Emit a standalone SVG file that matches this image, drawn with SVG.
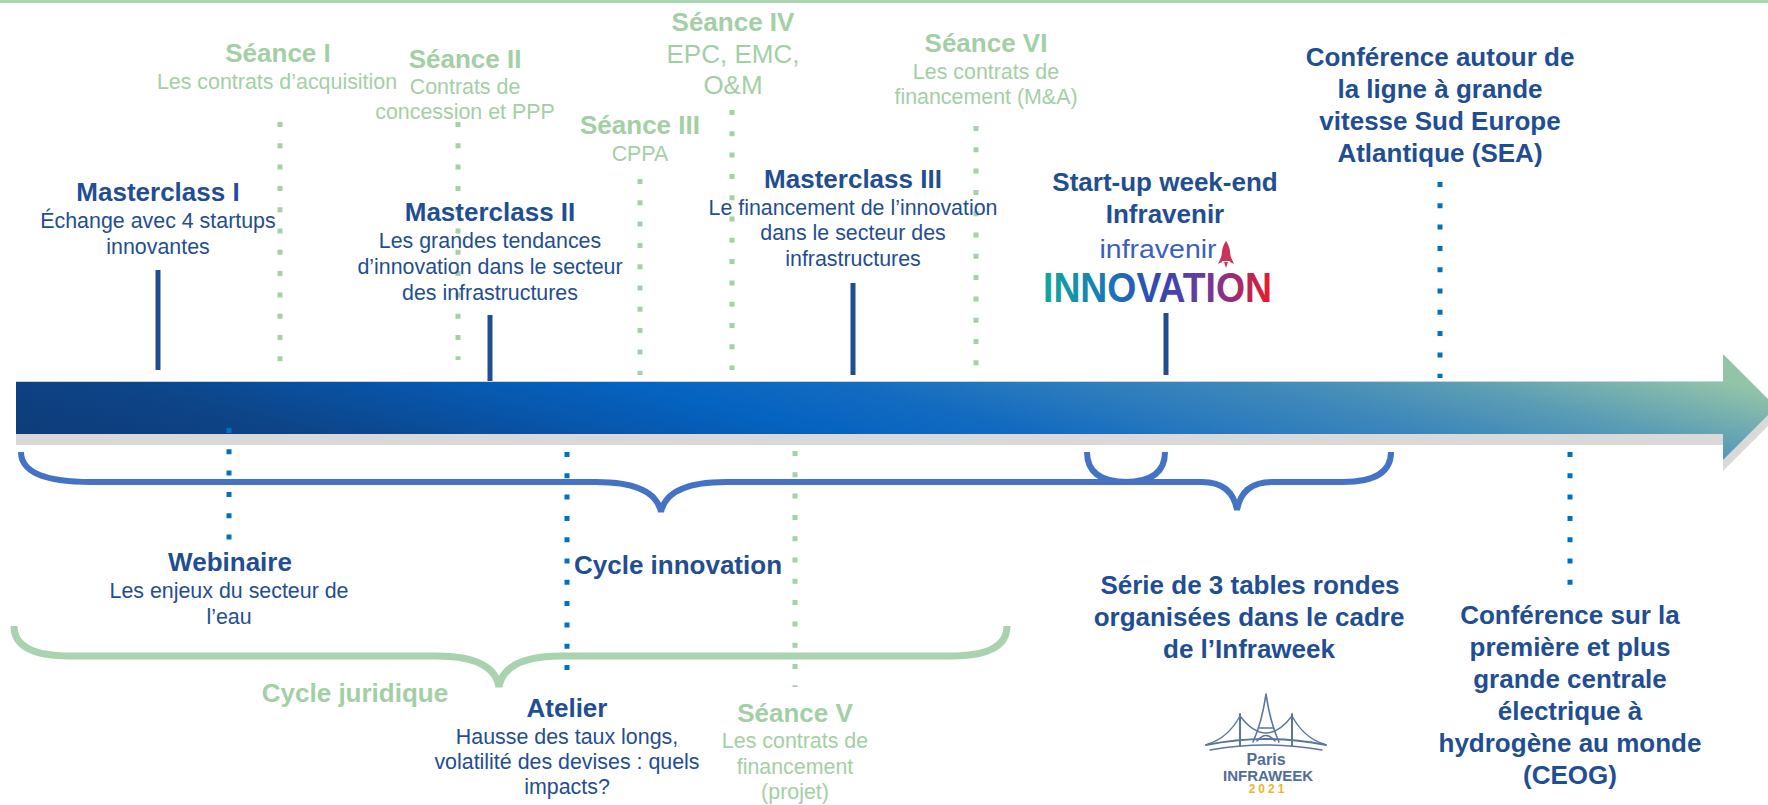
<svg xmlns="http://www.w3.org/2000/svg" width="1768" height="805" viewBox="0 0 1768 805">
<defs>
<style>
text{font-family:"Liberation Sans",Arial,sans-serif;text-anchor:middle}
.bt{font-size:26px;font-weight:bold;fill:#1f4e93}
.bs{font-size:21.4px;fill:#1f4e93}
.gt{font-size:26px;font-weight:bold;fill:#a3cfa5}
.gs{font-size:21.4px;fill:#a3cfa5}
.gl{font-size:26px;fill:#a3cfa5}
.gdot{stroke:#a6d0a5;stroke-width:5;stroke-dasharray:5 16.3;fill:none}
.bdot{stroke:#0070c0;stroke-width:5;stroke-dasharray:5 16.3;fill:none}
.tick{stroke:#1f4d91;stroke-width:5;fill:none}
.bbrace{stroke:#4472c4;stroke-width:6;fill:none}
.gbrace{stroke:#a8d3ae;stroke-width:7;fill:none}
.logo{stroke:#5a759e;fill:none;stroke-linecap:round}
</style>
<linearGradient id="arrowGrad" x1="0" y1="0.625" x2="1" y2="0.375">
<stop offset="0" stop-color="#0e3d7c"/>
<stop offset="0.14" stop-color="#0d4589"/>
<stop offset="0.28" stop-color="#0855aa"/>
<stop offset="0.41" stop-color="#0563c1"/>
<stop offset="0.52" stop-color="#136bc0"/>
<stop offset="0.63" stop-color="#2a7abd"/>
<stop offset="0.74" stop-color="#3f88ba"/>
<stop offset="0.85" stop-color="#5b9db4"/>
<stop offset="0.93" stop-color="#78b1ae"/>
<stop offset="1" stop-color="#93c4a9"/>
</linearGradient>
<linearGradient id="innoGrad" gradientUnits="userSpaceOnUse" x1="1043" y1="0" x2="1272" y2="0">
<stop offset="0" stop-color="#14a89c"/>
<stop offset="0.3" stop-color="#1a74b8"/>
<stop offset="0.5" stop-color="#3148b0"/>
<stop offset="0.7" stop-color="#6b3a9e"/>
<stop offset="0.85" stop-color="#a42a6e"/>
<stop offset="1" stop-color="#ea1c24"/>
</linearGradient>
</defs>

<rect x="0" y="0" width="1768" height="805" fill="#ffffff"/>
<rect x="0" y="0" width="1768" height="3" fill="#a8d5b0"/>

<g id="timeline-arrow">
<path d="M16,392 L1723,392 L1723,365 L1776,418 L1723,471 L1723,445 L16,445 Z" fill="#d9d9d9"/>
<path d="M16,381 L1723,381 L1723,354 L1776,407 L1723,460 L1723,434 L16,434 Z" fill="url(#arrowGrad)"/>
<line x1="16" y1="381.5" x2="1723" y2="381.5" stroke="#c6d3e2" stroke-width="1"/>
</g>

<g id="connectors">
<line class="gdot" x1="280" y1="122" x2="280" y2="364"/>
<line class="gdot" x1="458" y1="122" x2="458" y2="360"/>
<line class="gdot" x1="640" y1="179" x2="640" y2="375"/>
<line class="gdot" x1="732" y1="110" x2="732" y2="370"/>
<line class="gdot" x1="976" y1="126" x2="976" y2="366"/>
<line class="gdot" x1="795" y1="451" x2="795" y2="687"/>
<line class="bdot" x1="229" y1="428" x2="229" y2="540"/>
<line class="bdot" x1="567" y1="452" x2="567" y2="675"/>
<line class="bdot" x1="1440" y1="182" x2="1440" y2="378"/>
<line class="bdot" x1="1570" y1="452" x2="1570" y2="588"/>
<line class="tick" x1="158" y1="270" x2="158" y2="370"/>
<line class="tick" x1="490" y1="315" x2="490" y2="381"/>
<line class="tick" x1="853" y1="283" x2="853" y2="375"/>
<line class="tick" x1="1166" y1="313" x2="1166" y2="375"/>
</g>

<g id="brace-cycle-innovation">
<path class="bbrace" d="M21,452 Q21,482 91,482 L596,482 Q655,482 661,512 Q667,482 726,482 L1125,482 Q1165,482 1165,452"/>
</g>
<g id="brace-tables-rondes">
<path class="bbrace" d="M1087,452 Q1087,482 1127,482 L1202,482 Q1232,482 1237,510 Q1242,482 1272,482 L1343,482 Q1391,482 1391,452"/>
</g>
<g id="brace-cycle-juridique">
<path class="gbrace" d="M14,626 Q14,656 70,656 L436,656 Q494,656 499,687 Q504,656 562,656 L951,656 Q1007,656 1007,626"/>
</g>

<g id="seance-1">
<text class="gt" x="278" y="62">Séance I</text>
<text class="gs" x="277" y="89">Les contrats d’acquisition</text>
</g>
<g id="seance-2">
<text class="gt" x="465" y="68">Séance II</text>
<text class="gs" x="465" y="94">Contrats de</text>
<text class="gs" x="465" y="119">concession et PPP</text>
</g>
<g id="seance-3">
<text class="gt" x="640" y="134">Séance III</text>
<text class="gs" x="640" y="161">CPPA</text>
</g>
<g id="seance-4">
<text class="gt" x="733" y="31">Séance IV</text>
<text class="gl" x="733" y="63">EPC, EMC,</text>
<text class="gl" x="733" y="94">O&amp;M</text>
</g>
<g id="seance-6">
<text class="gt" x="986" y="52">Séance VI</text>
<text class="gs" x="986" y="79">Les contrats de</text>
<text class="gs" x="986" y="104">financement (M&amp;A)</text>
</g>
<g id="seance-5">
<text class="gt" x="795" y="722">Séance V</text>
<text class="gs" x="795" y="748">Les contrats de</text>
<text class="gs" x="795" y="774">financement</text>
<text class="gs" x="795" y="799">(projet)</text>
</g>

<g id="masterclass-1">
<text class="bt" x="158" y="201">Masterclass I</text>
<text class="bs" x="158" y="228">Échange avec 4 startups</text>
<text class="bs" x="158" y="254">innovantes</text>
</g>
<g id="masterclass-2">
<text class="bt" x="490" y="221">Masterclass II</text>
<text class="bs" x="490" y="248">Les grandes tendances</text>
<text class="bs" x="490" y="274">d’innovation dans le secteur</text>
<text class="bs" x="490" y="300">des infrastructures</text>
</g>
<g id="masterclass-3">
<text class="bt" x="853" y="188">Masterclass III</text>
<text class="bs" x="853" y="215">Le financement de l’innovation</text>
<text class="bs" x="853" y="240">dans le secteur des</text>
<text class="bs" x="853" y="266">infrastructures</text>
</g>

<g id="startup-weekend">
<text class="bt" x="1165" y="191">Start-up week-end</text>
<text class="bt" x="1165" y="223">Infravenir</text>
<text x="1158" y="258" style="font-size:26px;fill:#3b5fc0" textLength="117" lengthAdjust="spacingAndGlyphs">infravenir</text>
<path d="M1226,241 C1222,246 1221,254 1222,261 L1230,261 C1231,254 1230,246 1226,241 Z" fill="#c8345a"/>
<path d="M1222,255 L1218,264 L1222,262 Z M1230,255 L1234,264 L1230,262 Z M1224,262 L1226,268 L1228,262 Z" fill="#c8345a"/>
<text x="1157.5" y="302" style="font-weight:bold;font-size:42px;fill:url(#innoGrad)" textLength="229" lengthAdjust="spacingAndGlyphs">INNOVATION</text>
</g>

<g id="conference-sea">
<text class="bt" x="1440" y="66">Conférence autour de</text>
<text class="bt" x="1440" y="98">la ligne à grande</text>
<text class="bt" x="1440" y="130">vitesse Sud Europe</text>
<text class="bt" x="1440" y="162">Atlantique (SEA)</text>
</g>

<g id="webinaire">
<text class="bt" x="230" y="571">Webinaire</text>
<text class="bs" x="229" y="598">Les enjeux du secteur de</text>
<text class="bs" x="229" y="624">l’eau</text>
</g>

<g id="cycle-innovation">
<text class="bt" x="678" y="574">Cycle innovation</text>
</g>
<g id="cycle-juridique">
<text class="gt" x="355" y="702">Cycle juridique</text>
</g>

<g id="atelier">
<text class="bt" x="567" y="717">Atelier</text>
<text class="bs" x="567" y="744">Hausse des taux longs,</text>
<text class="bs" x="567" y="769">volatilité des devises : quels</text>
<text class="bs" x="567" y="794">impacts?</text>
</g>

<g id="tables-rondes">
<text class="bt" x="1250" y="594">Série de 3 tables rondes</text>
<text class="bt" x="1249" y="626">organisées dans le cadre</text>
<text class="bt" x="1249" y="658">de l’Infraweek</text>
</g>

<g id="infraweek-logo">
<path class="logo" stroke-width="1.6" d="M1266,694 Q1262,722 1253,742 M1266,694 Q1270,722 1279,742 M1259,728 L1273,728 M1257,741 Q1266,730 1275,741"/>
<path class="logo" stroke-width="2" d="M1240,714 L1240,746 M1292,714 L1292,746"/>
<path class="logo" stroke-width="1.4" d="M1240,716 Q1266,750 1292,716 M1240,716 Q1228,738 1208,744 M1292,716 Q1304,738 1324,744"/>
<path class="logo" stroke-width="2" d="M1206,745 Q1266,733 1326,745"/>
<path class="logo" stroke-width="1.4" d="M1210,750 Q1266,740 1322,750"/>
<text x="1266" y="765" style="font-weight:bold;font-size:16px;fill:#4f6d99">Paris</text>
<text x="1268" y="781" style="font-weight:bold;font-size:15px;fill:#4f6d99">INFRAWEEK</text>
<text x="1268" y="793" style="font-weight:bold;font-size:12px;fill:#e9b72e;letter-spacing:3px">2021</text>
</g>

<g id="conference-ceog">
<text class="bt" x="1570" y="624">Conférence sur la</text>
<text class="bt" x="1570" y="656">première et plus</text>
<text class="bt" x="1570" y="688">grande centrale</text>
<text class="bt" x="1570" y="720">électrique à</text>
<text class="bt" x="1570" y="752">hydrogène au monde</text>
<text class="bt" x="1570" y="784">(CEOG)</text>
</g>
</svg>
